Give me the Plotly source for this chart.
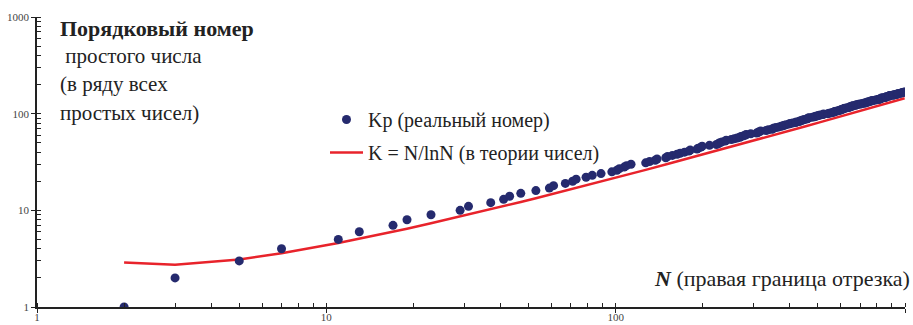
import plotly.graph_objects as go

# Prime numbers up to 1000 (N) and their ordinal numbers (Kp)
primes = [
    2, 3, 5, 7, 11, 13, 17, 19, 23, 29, 31, 37, 41, 43, 47, 53, 59, 61, 67, 71, 73, 79, 83, 89, 97,
    101, 103, 107, 109, 113, 127, 131, 137, 139, 149, 151, 157, 163, 167, 173, 179, 181, 191, 193, 197, 199,
    211, 223, 227, 229, 233, 239, 241, 251, 257, 263, 269, 271, 277, 281, 283, 293,
    307, 311, 313, 317, 331, 337, 347, 349, 353, 359, 367, 373, 379, 383, 389, 397,
    401, 409, 419, 421, 431, 433, 439, 443, 449, 457, 461, 463, 467, 479, 487, 491, 499,
    503, 509, 521, 523, 541, 547, 557, 563, 569, 571, 577, 587, 593, 599,
    601, 607, 613, 617, 619, 631, 641, 643, 647, 653, 659, 661, 673, 677, 683, 691,
    701, 709, 719, 727, 733, 739, 743, 751, 757, 761, 769, 773, 787, 797,
    809, 811, 821, 823, 827, 829, 839, 853, 857, 859, 863, 877, 881, 883, 887,
    907, 911, 919, 929, 937, 941, 947, 953, 967, 971, 977, 983, 991, 997,
]
ranks = [
    1, 2, 3, 4, 5, 6, 7, 8, 9, 10, 11, 12, 13, 14, 15, 16, 17, 18, 19, 20, 21, 22, 23, 24, 25,
    26, 27, 28, 29, 30, 31, 32, 33, 34, 35, 36, 37, 38, 39, 40, 41, 42, 43, 44, 45, 46,
    47, 48, 49, 50, 51, 52, 53, 54, 55, 56, 57, 58, 59, 60, 61, 62,
    63, 64, 65, 66, 67, 68, 69, 70, 71, 72, 73, 74, 75, 76, 77, 78,
    79, 80, 81, 82, 83, 84, 85, 86, 87, 88, 89, 90, 91, 92, 93, 94, 95,
    96, 97, 98, 99, 100, 101, 102, 103, 104, 105, 106, 107, 108, 109,
    110, 111, 112, 113, 114, 115, 116, 117, 118, 119, 120, 121, 122, 123, 124, 125,
    126, 127, 128, 129, 130, 131, 132, 133, 134, 135, 136, 137, 138, 139,
    140, 141, 142, 143, 144, 145, 146, 147, 148, 149, 150, 151, 152, 153, 154,
    155, 156, 157, 158, 159, 160, 161, 162, 163, 164, 165, 166, 167, 168,
]

# K = N / lnN curve (values read at selected N)
curve_n = [2, 3, 5, 7, 11, 13, 17, 19, 23, 29, 31, 37, 41, 43, 47, 53, 59, 61, 67, 71, 73, 79, 83, 89, 97,
           101, 127, 151, 181, 211, 251, 307, 353, 401, 457, 503, 557, 601, 653, 701, 751, 809, 853, 907, 953, 997]
curve_k = [2.885, 2.731, 3.107, 3.597, 4.587, 5.068, 6.000, 6.453, 7.335, 8.612, 9.027, 10.247, 11.041,
           11.432, 12.207, 13.349, 14.470, 14.839, 15.935, 16.656, 17.014, 18.080, 18.784, 19.828, 21.204,
           21.885, 26.217, 30.096, 34.818, 39.425, 45.426, 53.608, 60.173, 66.900, 74.616, 80.860, 88.097,
           93.927, 100.75, 106.98, 113.42, 120.82, 126.39, 133.18, 138.93, 144.39]

tick_vals = [1, 10, 100, 1000]
tick_text = ["1", "10", "100", "1000"]

SERIF = "Liberation Serif"
NAVY = "#252a6e"
RED = "#e8232b"

fig = go.Figure()
fig.add_trace(go.Scatter(
    x=curve_n, y=curve_k, mode="lines", name="K = N/lnN (в теории чисел)",
    line=dict(color=RED, width=2.5), legendgroup="b", legendrank=2,
))
fig.add_trace(go.Scatter(
    x=primes, y=ranks, mode="markers", name="Kp (реальный номер)",
    marker=dict(color=NAVY, size=9, line=dict(width=0)), legendgroup="a", legendrank=1,
))

axis_common = dict(
    type="log", range=[0, 3], tickvals=tick_vals, ticktext=tick_text,
    showgrid=False, zeroline=False, showline=True, linecolor="#222", linewidth=1.5,
    ticks="outside", ticklen=4, tickwidth=1.2, tickcolor="#222",
    tickfont=dict(family=SERIF, size=11, color="#444"),
    minor=dict(ticks="inside", ticklen=4, tickwidth=1, tickcolor="#222", dtick="D1", showgrid=False),
    automargin=False,
)

fig.update_layout(
    width=913, height=325,
    margin=dict(l=37, r=8, t=17, b=18),
    paper_bgcolor="white", plot_bgcolor="white",
    xaxis=dict(**axis_common, ticklabelstandoff=-5),
    yaxis=dict(**axis_common),
    showlegend=True,
    legend=dict(
        x=(325 - 37) / 868, y=(307 - 100) / 290, xanchor="left", yanchor="top",
        font=dict(family=SERIF, size=20, color="#222"),
        bgcolor="rgba(0,0,0,0)", tracegroupgap=4, itemwidth=33,
    ),
    font=dict(family=SERIF, color="#222"),
)

title_lines = [
    ("<b>Порядковый номер</b>", 29, 22),
    (" простого числа", 56, 21),
    ("(в ряду всех", 84, 21),
    ("простых чисел)", 113, 21),
]
for text, ypx, size in title_lines:
    fig.add_annotation(
        xref="paper", yref="paper", x=(58 - 37) / 868, y=(307 - ypx) / 290,
        xanchor="left", yanchor="middle", showarrow=False, text=text,
        font=dict(family=SERIF, size=size, color="#222"),
    )

fig.add_annotation(
    xref="paper", yref="paper", x=(912 - 37) / 868, y=(307 - 278) / 290,
    xanchor="right", yanchor="middle", showarrow=False,
    text="<b><i>N</i></b> (правая граница отрезка)",
    font=dict(family=SERIF, size=22, color="#222"),
)

fig.write_html("out.html", post_script="document.body.style.margin='0px';",
               config={"displayModeBar": False})
